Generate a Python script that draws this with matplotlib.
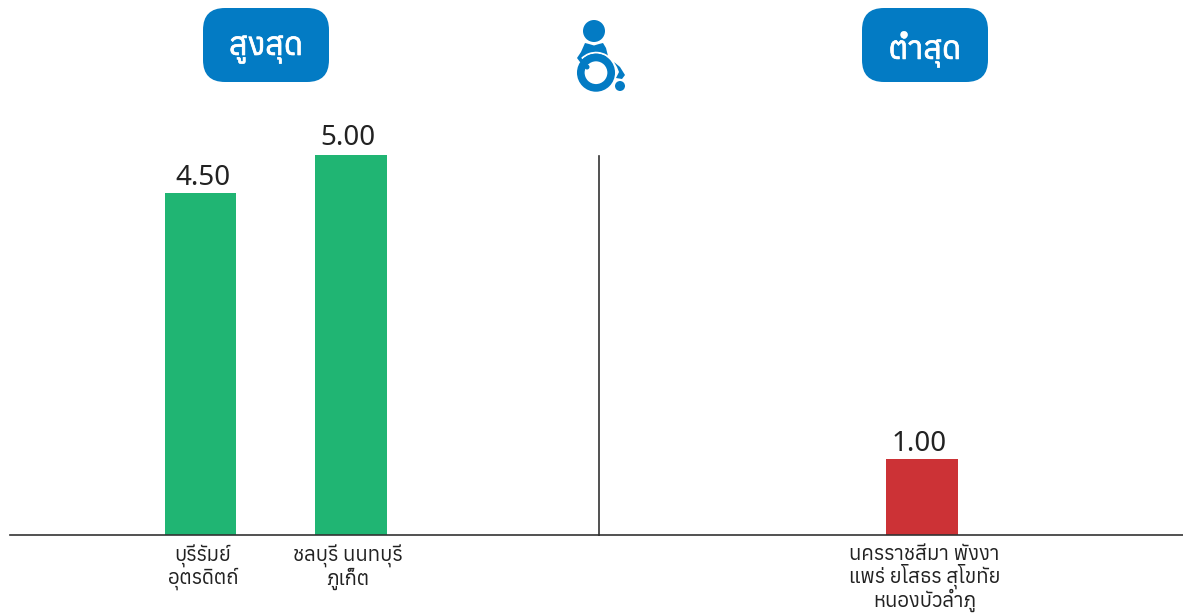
import matplotlib
matplotlib.use('Agg')
import matplotlib.pyplot as plt
import matplotlib.patheffects as pe
from matplotlib import font_manager as fm
from matplotlib.patches import Arc, Circle, FancyBboxPatch, Polygon
from matplotlib.ft2font import FT2Font
from matplotlib.transforms import ScaledTranslation

# find a family that really has thai glyphs
thai_fonts = []
for f in sorted(set(x.fname for x in fm.fontManager.ttflist)):
    try:
        if FT2Font(f).get_char_index(0x0E2A):
            thai_fonts.append(fm.FontProperties(fname=f).get_name())
    except Exception:
        pass
thai_fonts = sorted(set(thai_fonts))
plt.rcParams['font.family'] = thai_fonts + ['Noto Sans', 'DejaVu Sans']

high_labels = ['บุรีรัมย์\nอุตรดิตถ์', 'ชลบุรี นนทบุรี\nภูเก็ต']
high_values = [4.50, 5.00]
low_labels = ['นครราชสีมา พังงา\nแพร่ ยโสธร สุโขทัย\nหนองบัวลำภู']
low_values = [1.00]

W, H = 1183, 615
BLUE = '#037BC4'
GREEN = '#20B573'
RED = '#CC3236'
DARK = '#222222'
fig = plt.figure(figsize=(W / 100, H / 100), dpi=100)


def shift(artist, dx, dy=0):
    # nudge a text by pixels
    artist.set_transform(artist.get_transform() + ScaledTranslation(dx / 100, dy / 100, fig.dpi_scale_trans))


def panel(x0, x1, first, values, labels, color, value_nudge, label_dx, size):
    ax = fig.add_axes([x0 / W, (H - 535) / H, (x1 - x0) / W, 380 / H])
    unit = 150.5
    ax.set_xlim((x0 - first) / unit, (x1 - first) / unit)
    ax.set_ylim(0, 5)
    xs = list(range(len(values)))
    ax.bar(xs, values, width=0.475, color=color)
    for x, v, (dx, dy) in zip(xs, values, value_nudge):
        t = ax.text(x, v + 0.05, '%.2f' % v, ha='center', va='bottom', fontsize=20,
                    color=DARK, family='Noto Sans')
        shift(t, dx, dy)
    ax.set_xticks(xs, labels, fontsize=size, color=DARK, linespacing=1.0)
    ax.tick_params(axis='x', length=0, pad=7)
    for lab, dx in zip(ax.get_xticklabels(), label_dx):
        shift(lab, dx)
    ax.set_yticks([])
    for s in ['top', 'left', 'right']:
        ax.spines[s].set_visible(False)
    ax.spines['bottom'].set_color('#333333')
    ax.spines['bottom'].set_linewidth(1.2)
    ax.patch.set_alpha(0)
    return ax


panel(10, 599, 200.5, high_values, high_labels, GREEN, [(2.5, -3), (-3.5, -1)], [2.5, -3.5], 14.6)
panel(599, 1183, 922, low_values, low_labels, RED, [(-2.5, -3)], [2.5], 14.6)

# overlay in pixel coords for divider, badges and icon
ov = fig.add_axes([0, 0, 1, 1])
ov.set_xlim(0, W)
ov.set_ylim(H, 0)
ov.axis('off')
ov.patch.set_alpha(0)
ov.plot([599.5, 599.5], [156, 535], color='#333333', lw=1.2)


def badge(x0, x1, text):
    r = 22
    ov.add_patch(FancyBboxPatch((x0 + r, 8 + r), x1 - x0 - 2 * r, 74 - 2 * r,
                                boxstyle='round,pad=%d,rounding_size=%d' % (r, r),
                                fc=BLUE, ec='none'))
    ov.text((x0 + x1) / 2, 49, text, color='white', fontsize=23, ha='center', va='center',
            path_effects=[pe.withStroke(linewidth=0.5, foreground='white')])


badge(203, 329, 'สูงสุด')
badge(862, 988, 'ต่ำสุด')

# wheelchair icon
ov.add_patch(Circle((594, 31), 11, fc=BLUE, ec='none'))
ov.add_patch(Polygon([(585, 43), (589, 44), (594, 45.5), (599, 44), (603, 43), (606, 48), (608, 56),
                      (600, 60), (585, 66), (580, 62), (577, 58), (581, 52)], fc=BLUE, ec='none'))
ov.add_patch(Arc((596, 72.7), 40, 40, theta1=225, theta2=325, ec='white', lw=1.4))
ov.add_patch(Circle((596, 72.7), 15.2, fc='white', ec=BLUE, lw=5.5))
ov.add_patch(Circle((587, 67), 2.5, fc=BLUE, ec='none'))
ov.add_patch(Polygon([(614, 62), (620, 67), (625, 75), (622, 79), (616, 78), (619, 72), (617, 67)],
                     fc=BLUE, ec='none'))
ov.add_patch(Circle((620, 86), 5, fc=BLUE, ec='none'))

fig.savefig('out.png', dpi=100)
